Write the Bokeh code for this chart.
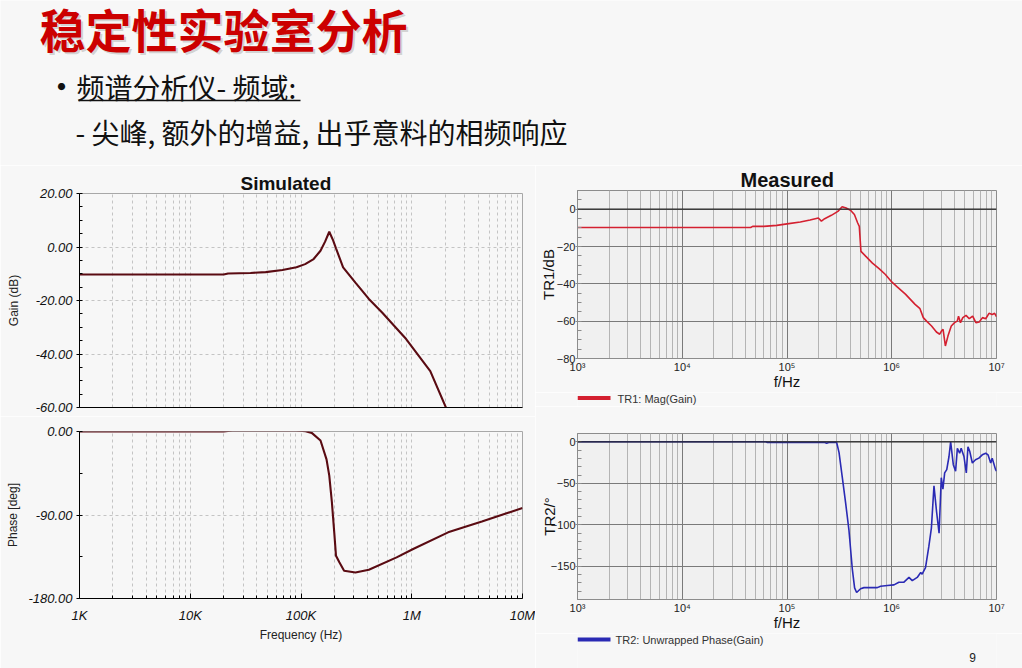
from bokeh.plotting import figure
from bokeh.layouts import column, row
from bokeh.models import Range1d, FixedTicker, PrintfTickFormatter, Span
from bokeh.embed import file_html
from bokeh.resources import INLINE
from bokeh.core.properties import value

# ---------------- texts ----------------
slide_title = "稳定性实验室分析"
bullet_1 = "频谱分析仪- 频域:"
bullet_2 = "- 尖峰, 额外的增益, 出乎意料的相频响应"
sim_title = "Simulated"
meas_title = "Measured"
mag_legend = "TR1: Mag(Gain)"
phase_legend = "TR2: Unwrapped Phase(Gain)"
page_number = "9"

# ---------------- simulated data ----------------
sim_gain_freq = [1e3, 2e4, 2.2e4, 3.5e4, 4.8e4, 6.8e4, 9.1e4, 1.09e5, 1.3e5,
                 1.5e5, 1.65e5, 1.8e5, 1.95e5, 2.07e5, 2.4e5, 3.1e5, 4.1e5,
                 5.4e5, 8.9e5, 1.47e6, 2.06e6, 2.6e6]
sim_gain_db = [-10.3, -10.3, -9.9, -9.7, -9.4, -8.6, -7.6, -6.4, -4.5,
               -1.4, 2.0, 5.7, 2.5, -0.5, -7.6, -13.3, -19.4,
               -24.5, -34.4, -46.4, -60.5, -65.0]

sim_phase_freq = [1e3, 2e4, 2.4e4, 9e4, 1.1e5, 1.25e5, 1.5e5, 1.7e5, 1.8e5,
                  1.9e5, 2.0e5, 2.07e5, 2.22e5, 2.45e5, 3.1e5, 4.1e5, 7.3e5,
                  1.03e6, 2.13e6, 3.0e6, 4.3e6, 1e7]
sim_phase_deg = [0, 0, 1.2, 1.2, 0.3, -1.5, -9.7, -30, -47.5,
                 -76, -110, -134, -141, -150, -152, -149, -135.7,
                 -126.6, -108.7, -103, -97, -82.5]

# ---------------- measured data ----------------
meas_mag_freq = [1e3, 4.5e4, 4.7e4, 6e4, 8e4, 1e5, 1.34e5, 1.66e5, 1.99e5,
                 2.13e5, 2.29e5, 2.65e5, 3.06e5, 3.36e5, 3.67e5, 4.08e5,
                 4.4e5, 4.73e5, 4.9e5, 5.08e5, 5.66e5, 6.54e5, 7.57e5, 8.7e5,
                 1.0e6, 1.12e6, 1.35e6, 1.67e6, 1.86e6, 2.0e6, 2.15e6, 2.4e6,
                 2.67e6, 2.87e6, 2.98e6, 3.09e6, 3.25e6, 3.44e6, 3.7e6, 3.98e6,
                 4.22e6, 4.34e6, 4.53e6, 4.77e6, 5.12e6, 5.5e6, 5.92e6, 6.36e6,
                 6.84e6, 7.35e6, 7.89e6, 8.48e6, 9.12e6, 9.6e6, 1e7]
meas_mag_db = [-9.8, -9.8, -9.2, -9.2, -8.7, -7.9, -6.9, -5.8, -4.7,
               -6.4, -5.1, -3.3, -1.2, 1.3, 0.6, -0.8,
               -2.9, -7.4, -9.2, -22.6, -25.3, -28.9, -31.9, -35.0,
               -39.0, -41.5, -45.5, -51.0, -53.3, -58.1, -60.0, -62.6,
               -65.8, -67.0, -65.3, -64.4, -73.3, -68.0, -62.6, -60.8,
               -60.0, -57.3, -60.8, -58.1, -56.9, -58.7, -57.3, -60.8,
               -60.4, -58.1, -58.7, -55.8, -56.4, -55.8, -57.6]

meas_phase_freq = [1e3, 6.3e4, 6.5e4, 2.3e5, 2.39e5, 2.5e5, 2.98e5, 3.14e5,
                   3.37e5, 3.63e5, 3.9e5, 4.2e5, 4.42e5, 4.62e5, 5.04e5,
                   5.43e5, 7.28e5, 7.83e5, 9.08e5, 1.05e6, 1.17e6, 1.3e6,
                   1.46e6, 1.57e6, 1.75e6, 1.89e6, 1.95e6, 2.1e6, 2.26e6,
                   2.39e6, 2.53e6, 2.68e6, 2.83e6, 2.97e6, 3.08e6, 3.2e6,
                   3.35e6, 3.52e6, 3.65e6, 3.87e6, 4.07e6, 4.23e6, 4.45e6,
                   4.6e6, 4.89e6, 5.15e6, 5.34e6, 5.56e6, 5.88e6, 6.3e6,
                   6.79e6, 7.31e6, 7.9e6, 8.3e6, 8.8e6, 9.1e6, 9.8e6, 1e7]
meas_phase_deg = [0, 0, -0.8, -0.8, -1.8, -0.8, -0.8, -13,
                  -42.6, -74, -106, -153, -176, -181.6, -177,
                  -175.7, -175.7, -174, -173.2, -172.4, -169.3, -169.3,
                  -163.4, -167.3, -163.4, -157.5, -159.5, -151.6, -126,
                  -104, -53.1, -84.6, -110, -43.3, -57, -37.4,
                  -33.5, -17.7, 0, -27.6, -35.4, -7.9, -13.8,
                  -7.9, -17.7, -37.4, -5.9, -11.8, -25.6, -21.7,
                  -19.7, -15.7, -13.8, -15.7, -25.6, -19.7, -33.5, -35.4]

# ---------------- ticks ----------------
decades = [1e3, 1e4, 1e5, 1e6, 1e7]
sim_x_labels = ["1K", "10K", "100K", "1M", "10M"]
meas_x_labels = ["10\u00b3", "10\u2074", "10\u2075", "10\u2076", "10\u2077"]
sim_gain_ticks = [-60, -40, -20, 0, 20]
sim_phase_ticks = [-180, -90, 0]
meas_mag_ticks = [-80, -60, -40, -20, 0]
meas_phase_ticks = [-150, -100, -50, 0]

log_minor = [m * 10 ** e for e in range(3, 7) for m in range(2, 10)]

BG = "#f7f7f7"
LATIN = "Liberation Sans"
CJK = "Noto Sans CJK SC"
SIM_LINE = "#5a0b12"
RED = "#d42030"
BLUE = "#2a2ab4"

LEFT_W = 535
RIGHT_W = 1022 - LEFT_W
M_LEFT = 42
M_RIGHT = 26


def base(width, height, y_range, left, right, top, bottom):
    p = figure(width=width, height=height, x_axis_type="log",
               x_range=Range1d(1e3, 1e7), y_range=Range1d(*y_range),
               toolbar_location=None, output_backend="svg",
               min_border_left=left, min_border_right=right,
               min_border_top=top, min_border_bottom=bottom)
    p.border_fill_color = BG
    return p


def pixel_panel(width, height, left=0, right=0):
    p = figure(width=width, height=height, x_range=Range1d(0, width - left - right),
               y_range=Range1d(height, 0),
               toolbar_location=None, output_backend="svg",
               x_axis_location=None, y_axis_location=None,
               min_border_left=left, min_border_right=right,
               min_border_top=0, min_border_bottom=0)
    p.grid.visible = False
    p.outline_line_color = None
    p.background_fill_color = BG
    p.border_fill_color = BG
    return p


# ---------------- header ----------------
hdr = pixel_panel(1022, 165)
hdr.text(x=[41], y=[29], text=[slide_title], text_font=value(CJK), text_font_size="46px",
         text_font_style="bold", text_color="#999999", text_alpha=0.4,
         text_baseline="middle", text_align="left")
hdr.text(x=[39], y=[27], text=[slide_title], text_font=value(CJK), text_font_size="46px",
         text_font_style="bold", text_color="#cc0000",
         text_baseline="middle", text_align="left")
hdr.text(x=[44], y=[85], text=["\u2022"], text_font=value(CJK), text_font_size="34px",
         text_color="#111111", text_baseline="middle", text_align="left")
hdr.text(x=[76], y=[86], text=[bullet_1], text_font=value(CJK), text_font_size="28px",
         text_color="#111111", text_baseline="middle", text_align="left")
hdr.segment(x0=[78], y0=[100], x1=[300], y1=[100], line_color="#111111", line_width=1.3)
hdr.text(x=[75], y=[131], text=[bullet_2], text_font=value(CJK), text_font_size="28px",
         text_color="#111111", text_baseline="middle", text_align="left")


# ---------------- simulated ----------------
def style_sim(p, yticks, ymin_step):
    p.background_fill_color = BG
    p.outline_line_color = "#a8a8a8"
    p.xaxis.ticker = FixedTicker(ticks=decades, minor_ticks=log_minor)
    p.yaxis.ticker = FixedTicker(
        ticks=yticks,
        minor_ticks=[v for v in range(int(min(yticks)), int(max(yticks)) + 1, ymin_step)])
    for g in (p.xgrid, p.ygrid):
        g.grid_line_color = "#c4c4c4"
        g.grid_line_dash = "3 3"
    p.xgrid.minor_grid_line_color = "#c4c4c4"
    p.xgrid.minor_grid_line_dash = "3 3"
    ax = p.yaxis[0]
    ax.formatter = PrintfTickFormatter(format="%.2f")
    ax.axis_line_color = "black"
    ax.major_tick_line_color = "black"
    ax.minor_tick_line_color = "black"
    ax.major_tick_out = 3
    ax.major_tick_in = 0
    ax.minor_tick_in = 3
    ax.minor_tick_out = 0
    ax.major_label_standoff = 4
    ax.major_label_text_font = LATIN
    ax.major_label_text_font_size = "13px"
    ax.major_label_text_font_style = "italic"
    ax.major_label_text_color = "#111111"
    ax.axis_label_text_font = LATIN
    ax.axis_label_text_font_size = "12px"
    ax.axis_label_text_font_style = "normal"
    ax.axis_label_text_color = "#222222"
    bx = p.xaxis[0]
    bx.axis_line_color = "black"
    bx.major_tick_line_color = "black"
    bx.minor_tick_line_color = "black"


g1 = base(LEFT_W, 251, (-60, 20), 79, LEFT_W - 522, 28, 9)
style_sim(g1, sim_gain_ticks, 5)
g1.line(sim_gain_freq, sim_gain_db, line_color=SIM_LINE, line_width=2.1)
g1.yaxis.axis_label = "Gain (dB)"
g1.yaxis.axis_label_standoff = 12
g1.xaxis.major_label_text_font_size = "1px"
g1.xaxis.major_label_text_alpha = 0
g1.xaxis.major_label_standoff = 0
g1.xaxis.major_tick_in = 0
g1.xaxis.major_tick_out = 0
g1.xaxis.minor_tick_in = 0
g1.xaxis.minor_tick_out = 0
g1.title.text = sim_title
g1.title.text_font = LATIN
g1.title.text_font_size = "19px"
g1.title.text_font_style = "bold"
g1.title.text_color = "#111111"
g1.title.align = "left"
g1.title.offset = 161
g1.title.standoff = 0

g2 = base(LEFT_W, 252, (-180, 0), 79, LEFT_W - 522, 15, 70)
style_sim(g2, sim_phase_ticks, 45)
g2.line(sim_phase_freq, sim_phase_deg, line_color=SIM_LINE, line_width=2.1)
g2.yaxis.axis_label = "Phase [deg]"
g2.yaxis.axis_label_standoff = 5
g2.xaxis.axis_label = "Frequency (Hz)"
g2.xaxis.major_label_overrides = {int(d): s for d, s in zip(decades, sim_x_labels)}
g2.xaxis.major_label_text_font = LATIN
g2.xaxis.major_label_text_font_size = "13px"
g2.xaxis.major_label_text_font_style = "italic"
g2.xaxis.major_label_text_color = "#111111"
g2.xaxis.major_label_standoff = 9
g2.xaxis.major_tick_in = 5
g2.xaxis.major_tick_out = 0
g2.xaxis.minor_tick_in = 3
g2.xaxis.minor_tick_out = 0
g2.xaxis.axis_label_text_font = LATIN
g2.xaxis.axis_label_text_font_size = "12px"
g2.xaxis.axis_label_text_font_style = "normal"
g2.xaxis.axis_label_text_color = "#222222"
g2.xaxis.axis_label_standoff = 2


# ---------------- measured ----------------
def style_meas(p, yticks, ystep, ylabel, ylabel_standoff, xlabel_standoff, xaxis_label_standoff):
    p.background_fill_color = "#f0f0f0"
    p.outline_line_color = "#8c8c8c"
    p.xaxis.ticker = FixedTicker(ticks=decades, minor_ticks=log_minor)
    p.yaxis.ticker = FixedTicker(ticks=yticks,
                                 minor_ticks=[v for v in range(-190, 11, ystep)])
    p.xgrid.grid_line_color = "#7a7a7a"
    p.xgrid.minor_grid_line_color = "#b4b4b4"
    p.ygrid.grid_line_color = "#7a7a7a"
    p.add_layout(Span(location=0, dimension="width", line_color="#2a2a2a", line_width=1.2))
    ax = p.yaxis[0]
    ax.axis_label = ylabel
    ax.axis_line_color = "#8c8c8c"
    ax.major_tick_line_color = "#8c8c8c"
    ax.minor_tick_line_color = "#8c8c8c"
    ax.major_tick_out = 2
    ax.major_tick_in = 0
    ax.minor_tick_in = 4
    ax.minor_tick_out = 0
    ax.major_label_standoff = 0
    ax.major_label_text_font = LATIN
    ax.major_label_text_font_size = "11px"
    ax.major_label_text_color = "#222222"
    ax.axis_label_text_font = LATIN
    ax.axis_label_text_font_size = "15px"
    ax.axis_label_text_font_style = "normal"
    ax.axis_label_text_color = "#111111"
    ax.axis_label_standoff = ylabel_standoff
    bx = p.xaxis[0]
    bx.axis_label = "f/Hz"
    bx.major_label_overrides = {int(d): s for d, s in zip(decades, meas_x_labels)}
    bx.major_label_text_align = "left"
    bx.major_label_text_font = LATIN
    bx.major_label_text_font_size = "11px"
    bx.major_label_text_color = "#222222"
    bx.major_label_standoff = xlabel_standoff
    bx.axis_line_color = "#8c8c8c"
    bx.major_tick_out = 0
    bx.major_tick_in = 0
    bx.minor_tick_out = 0
    bx.minor_tick_in = 0
    bx.axis_label_text_font = LATIN
    bx.axis_label_text_font_size = "15px"
    bx.axis_label_text_font_style = "normal"
    bx.axis_label_text_color = "#111111"
    bx.axis_label_standoff = xaxis_label_standoff


m1 = base(RIGHT_W, 227, (-80, 10), M_LEFT, M_RIGHT, 25, 32)
style_meas(m1, meas_mag_ticks, 5, "TR1/dB", -3, 2, -3)
m1.line(meas_mag_freq, meas_mag_db, line_color=RED, line_width=1.6)
m1.title.text = meas_title
m1.title.text_font = LATIN
m1.title.text_font_size = "20px"
m1.title.text_font_style = "bold"
m1.title.text_color = "#111111"
m1.title.align = "left"
m1.title.offset = 163
m1.title.standoff = 0

leg1 = pixel_panel(RIGHT_W, 14, M_LEFT, M_RIGHT)
leg1.segment(x0=[0], y0=[5.5], x1=[33], y1=[5.5], line_color=RED, line_width=4)
leg1.text(x=[40], y=[6], text=[mag_legend], text_font=value(LATIN), text_font_size="11px",
          text_color="#333333", text_baseline="middle", text_align="left")

m2 = base(RIGHT_W, 227, (-190, 10), M_LEFT, M_RIGHT, 27, 32)
style_meas(m2, meas_phase_ticks, 10, "TR2/\u00b0", -10, 2, -3)
m2.line(meas_phase_freq, meas_phase_deg, line_color=BLUE, line_width=1.6)

leg2 = pixel_panel(RIGHT_W, 35, M_LEFT, M_RIGHT)
leg2.segment(x0=[0], y0=[6], x1=[33], y1=[6], line_color=BLUE, line_width=4)
leg2.text(x=[38], y=[6.5], text=[phase_legend], text_font=value(LATIN), text_font_size="11px",
          text_color="#333333", text_baseline="middle", text_align="left")
leg2.text(x=[395], y=[24], text=[page_number], text_font=value(LATIN), text_font_size="12px",
          text_color="#222222", text_baseline="middle", text_align="center")

layout = column(hdr, row(column(g1, g2), column(m1, leg1, m2, leg2)))
html = file_html(layout, INLINE)
html = html.replace("<body>", '<body style="background-color:%s;">' % BG, 1)
open("out.html", "w").write(html)
